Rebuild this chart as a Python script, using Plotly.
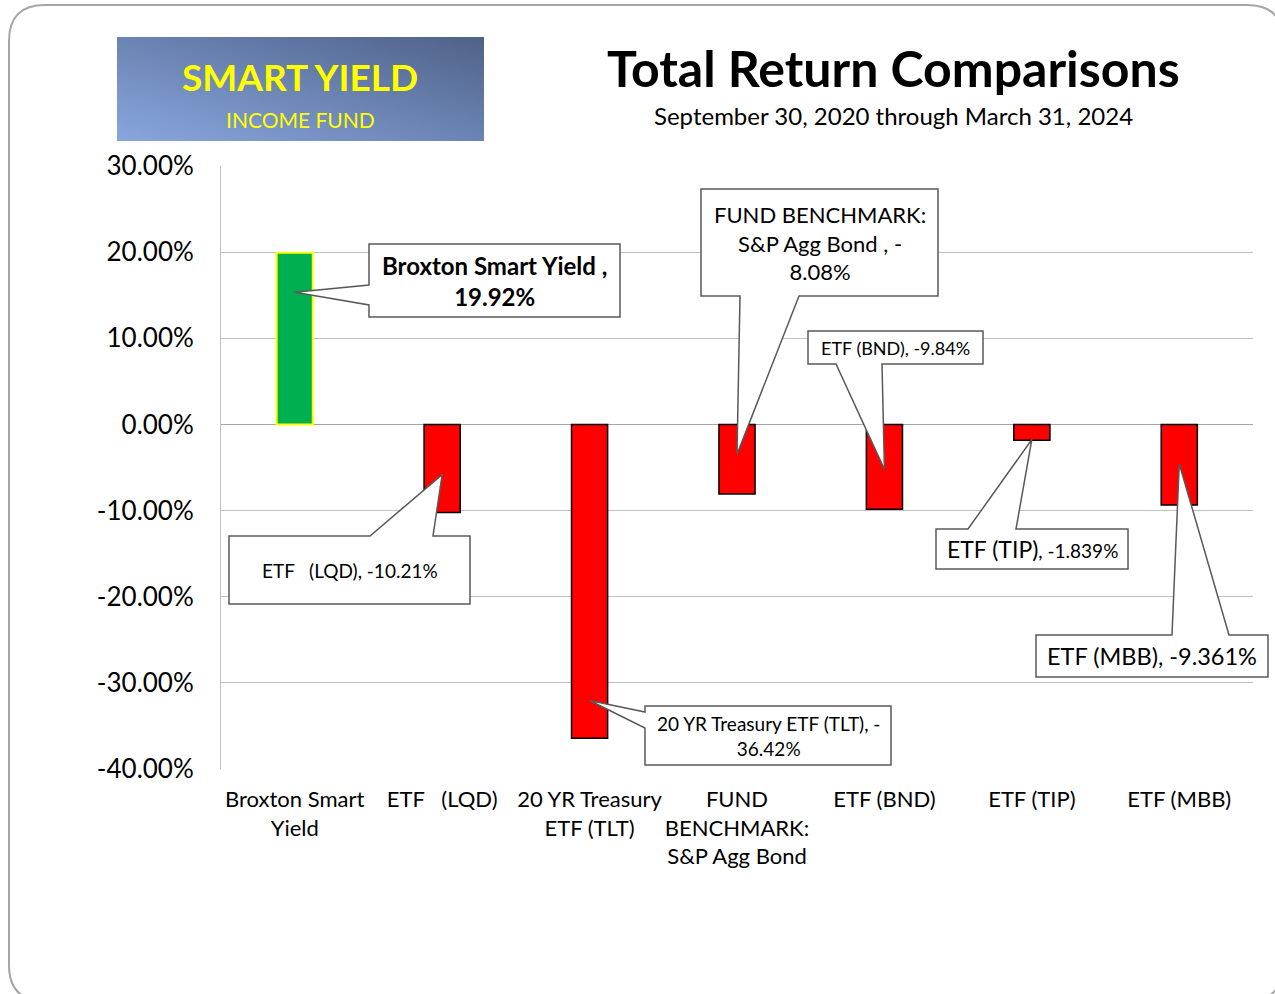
import base64
import plotly.graph_objects as go

# ---------------- data ----------------
categories = ["Broxton Smart<br>Yield", "ETF   (LQD)", "20 YR Treasury<br>ETF (TLT)",
              "FUND<br>BENCHMARK:<br>S&P Agg Bond", "ETF (BND)", "ETF (TIP)", "ETF (MBB)"]
returns = [19.92, -10.21, -36.42, -8.08, -9.84, -1.839, -9.361]
bar_colors = ["#00B050", "#FF0000", "#FF0000", "#FF0000", "#FF0000", "#FF0000", "#FF0000"]
bar_lines = ["#FFFF00", "#000000", "#000000", "#000000", "#000000", "#000000", "#000000"]
y_ticks = [-40, -30, -20, -10, 0, 10, 20, 30]
y_ticktext = [f"{v:.2f}%" for v in y_ticks]
callout_texts = [
    "<b>Broxton Smart Yield ,<br>19.92%</b>",
    "ETF   (LQD), -10.21%",
    "20 YR Treasury ETF (TLT), -<br>36.42%",
    "FUND BENCHMARK:<br>S&P Agg Bond , -<br>8.08%",
    "ETF (BND), -9.84%",
    "ETF (TIP)<span style='font-size:19px'>, -1.839%</span>",
    "ETF (MBB), -9.361%",
]
# pointer tip as fraction of each bar's value
tip_frac = [0.77, 0.57, 0.88, 0.43, 0.53, 0.95, 0.49]

# ---------------- layout geometry (pixels) ----------------
W, H = 1275, 994
L, R, T, B = 221, 1253, 166, 769
YMIN, YMAX = -40, 30
N = len(categories)
FONT = "Lato"


def px2paper(px, py):
    return (px - L) / (R - L), (B - py) / (B - T)


def data2px(i, v):
    return L + (i + 0.5) * (R - L) / N, B - (v - YMIN) / (YMAX - YMIN) * (B - T)


# callout boxes: (x0, y0, x1, y1), side of wedge, wedge base points along side, font size
boxes = [
    ((369, 244, 620, 317), "left", (285, 305), 24),
    ((229, 536, 470, 604), "top", (370, 433), 19),
    ((645, 706, 891, 765), "left", (712, 728), 19),
    ((701, 189, 938, 296), "bottom", (740, 799), 22),
    ((808, 331, 983, 364), "bottom", (836, 882), 18),
    ((936, 529, 1128, 569), "top", (968, 1016), 23),
    ((1036, 635, 1268, 677), "top", (1172, 1229), 23.5),
]

fig = go.Figure()
fig.add_trace(go.Bar(
    x=list(range(N)), y=returns, width=0.245,
    marker=dict(color=bar_colors, line=dict(color=bar_lines, width=[2, 1.5, 1.5, 1.5, 1.5, 1.5, 1.5])),
    hoverinfo="skip",
))

shapes = []
annotations = []


def path_from(points):
    pp = [px2paper(x, y) for x, y in points]
    return "M " + " L ".join(f"{x:.5f},{y:.5f}" for x, y in pp) + " Z"


for i, ((x0, y0, x1, y1), side, (a, b), fs) in enumerate(boxes):
    tx, ty = data2px(i, returns[i] * tip_frac[i])
    if side == "left":
        pts = [(x0, y0), (x1, y0), (x1, y1), (x0, y1), (x0, b), (tx, ty), (x0, a)]
    elif side == "top":
        pts = [(x0, y0), (a, y0), (tx, ty), (b, y0), (x1, y0), (x1, y1), (x0, y1)]
    else:  # bottom
        pts = [(x0, y0), (x1, y0), (x1, y1), (b, y1), (tx, ty), (a, y1), (x0, y1)]
    shapes.append(dict(type="path", xref="paper", yref="paper", path=path_from(pts),
                       fillcolor="white", line=dict(color="#595959", width=1.5), layer="above"))
    cx, cy = px2paper((x0 + x1) / 2, (y0 + y1) / 2)
    annotations.append(dict(xref="paper", yref="paper", x=cx, y=cy, text=callout_texts[i],
                            showarrow=False, xanchor="center", yanchor="middle",
                            font=dict(family=FONT, size=fs, color="black")))

# outer rounded frame
fx0, fy0, fx1, fy1, rr = 9, 5, 1283, 1001, 36
frame_pts = (f"M {fx0 + rr},{fy0} L {fx1 - rr},{fy0} Q {fx1},{fy0} {fx1},{fy0 + rr} "
             f"L {fx1},{fy1 - rr} Q {fx1},{fy1} {fx1 - rr},{fy1} L {fx0 + rr},{fy1} "
             f"Q {fx0},{fy1} {fx0},{fy1 - rr} L {fx0},{fy0 + rr} Q {fx0},{fy0} {fx0 + rr},{fy0} Z")


def conv_path(p):
    out = []
    for t in p.split():
        if "," in t:
            x, y = map(float, t.split(","))
            X, Y = px2paper(x, y)
            out.append(f"{X:.5f},{Y:.5f}")
        else:
            out.append(t)
    return " ".join(out)


shapes.insert(0, dict(type="path", xref="paper", yref="paper", path=conv_path(frame_pts),
                      line=dict(color="#A6A6A6", width=2), layer="below"))

# logo gradient image
svg = ('<svg xmlns="http://www.w3.org/2000/svg" width="367" height="104" viewBox="0 0 367 104" '
       'preserveAspectRatio="none"><defs><linearGradient id="g" x1="0" y1="1" x2="1" y2="0">'
       '<stop offset="0" stop-color="#88A6DE"/><stop offset="1" stop-color="#4F6288"/>'
       '</linearGradient></defs><rect width="367" height="104" fill="url(#g)"/></svg>')
src = "data:image/svg+xml;base64," + base64.b64encode(svg.encode()).decode()
lx, ly = px2paper(117, 37)
images = [dict(source=src, xref="paper", yref="paper", x=lx, y=ly,
               sizex=367 / (R - L), sizey=104 / (B - T), xanchor="left", yanchor="top",
               sizing="stretch", layer="below")]

x_, y_ = px2paper(300, 76)
annotations.append(dict(xref="paper", yref="paper", x=x_, y=y_, text="<b>SMART YIELD</b>",
                        showarrow=False, font=dict(family=FONT, size=37, color="#FFFF00"),
                        xanchor="center", yanchor="middle"))
x_, y_ = px2paper(300, 119)
annotations.append(dict(xref="paper", yref="paper", x=x_, y=y_, text="INCOME FUND",
                        showarrow=False, font=dict(family=FONT, size=21, color="#FFFF00"),
                        xanchor="center", yanchor="middle"))
x_, y_ = px2paper(893, 68)
annotations.append(dict(xref="paper", yref="paper", x=x_, y=y_, text="<b>Total Return Comparisons</b>",
                        showarrow=False, font=dict(family=FONT, size=50, color="black"),
                        xanchor="center", yanchor="middle"))
x_, y_ = px2paper(893, 116)
annotations.append(dict(xref="paper", yref="paper", x=x_, y=y_,
                        text="September 30, 2020 through March 31, 2024",
                        showarrow=False, font=dict(family=FONT, size=24, color="black"),
                        xanchor="center", yanchor="middle"))

fig.update_layout(
    width=W, height=H,
    margin=dict(l=L, r=W - R, t=T, b=H - B, pad=0),
    paper_bgcolor="white", plot_bgcolor="white",
    showlegend=False,
    shapes=shapes, annotations=annotations, images=images,
    xaxis=dict(range=[-0.5, N - 0.5], tickmode="array", tickvals=list(range(N)), ticktext=categories,
               showgrid=False, zeroline=False, showline=False, ticks="",
               tickfont=dict(family=FONT, size=22, color="black"), ticklabelstandoff=15),
    yaxis=dict(range=[YMIN, YMAX], tickmode="array", tickvals=y_ticks, ticktext=y_ticktext,
               showgrid=True, gridcolor="#C0C0C0", gridwidth=1, zeroline=True, zerolinecolor="#A6A6A6",
               zerolinewidth=1, showline=True, linecolor="#C0C0C0", linewidth=1, ticks="",
               tickfont=dict(family=FONT, size=26, color="black"), ticklabelstandoff=21),
)

fig.write_html("out.html", config={"displayModeBar": False},
               post_script="document.body.style.margin='0';document.body.style.overflow='hidden';")
